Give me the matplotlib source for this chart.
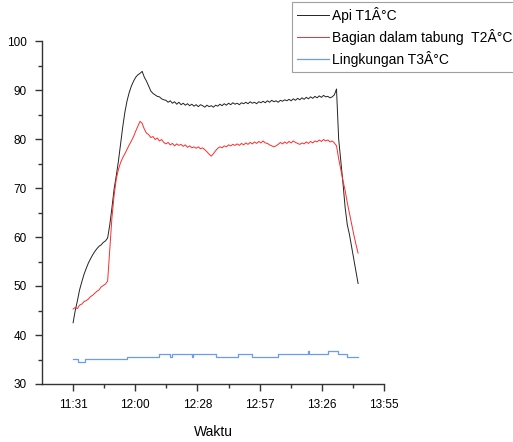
import matplotlib
matplotlib.use("Agg")
import matplotlib.pyplot as plt
import numpy as np

plt.rcParams["font.family"] = ["Liberation Sans", "DejaVu Sans"]

# waktu mulai pengukuran (menit sejak 00:00) dan data tiap 1 menit
MULAI = 691.2
T1_API = [
    42.5, 45.0, 47.0, 49.2, 50.8, 52.3, 53.5, 54.6, 55.5, 56.3,
    57.0, 57.6, 58.1, 58.4, 58.9, 59.2, 59.8, 62.5, 66.0, 69.8,
    72.5, 75.5, 79.0, 82.5, 85.5, 87.8, 89.5, 90.8, 91.8, 92.6,
    93.1, 93.4, 93.8, 92.6, 91.8, 90.8, 89.8, 89.3, 89.0, 88.7,
    88.6, 88.2, 88.0, 87.9, 87.5, 87.8, 87.3, 87.6, 87.1, 87.5,
    87.0, 87.3, 86.9, 87.2, 86.8, 87.1, 86.7, 87.0, 86.6, 87.0,
    86.8, 86.5, 86.9, 86.6, 86.8, 86.5, 86.9, 86.7, 87.1, 86.8,
    87.2, 86.9, 87.3, 87.0, 87.4, 87.1, 87.3, 87.0, 87.4, 87.2,
    87.5, 87.2, 87.6, 87.3, 87.5, 87.2, 87.6, 87.4, 87.7, 87.4,
    87.8, 87.5, 87.9, 87.6, 87.8, 87.5, 87.9, 87.7, 88.0, 87.8,
    88.1, 87.8, 88.2, 87.9, 88.3, 88.0, 88.4, 88.1, 88.5, 88.2,
    88.6, 88.3, 88.7, 88.4, 88.8, 88.5, 88.9, 88.6, 88.7, 88.4,
    88.6, 89.0, 90.2, 80.0, 75.5, 71.0, 66.0, 62.5, 60.5, 58.0,
    55.5, 53.0, 50.5,
]
T2_TABUNG = [
    45.3, 45.6, 45.4, 46.1, 46.3, 46.8, 47.0, 47.3, 47.8, 48.1,
    48.5, 48.9, 49.2, 49.8, 50.1, 50.4, 51.0, 57.5, 64.0, 68.5,
    71.8, 73.8, 75.2, 76.2, 77.0, 77.9, 78.8, 79.6, 80.5, 81.6,
    82.6, 83.6, 83.2, 82.0, 81.2, 80.9, 80.3, 80.5, 79.9, 80.2,
    79.6, 79.9, 79.3, 79.0, 79.3, 78.8, 79.1, 78.6, 79.0, 78.7,
    78.9, 78.5, 78.8, 78.3, 78.6, 78.2, 78.4, 78.1, 78.4, 78.0,
    78.2, 77.8, 77.4, 76.9, 76.5, 77.0, 77.6, 78.1, 78.4, 78.2,
    78.6, 78.4, 78.8, 78.6, 78.9, 78.7, 79.0, 78.7, 79.1, 78.8,
    79.2, 78.9, 79.3, 79.0, 79.4, 79.1, 79.5, 79.2, 79.6, 79.2,
    79.1, 78.8, 78.6, 78.4, 78.6, 78.9, 79.3, 79.0, 79.4, 79.1,
    79.5, 79.2, 79.6, 79.3, 79.1, 78.9, 79.2, 79.0, 79.4, 79.1,
    79.5, 79.2, 79.6, 79.4, 79.8, 79.5, 79.9, 79.6, 79.8, 79.4,
    79.6, 79.2, 78.6, 76.0, 73.7, 71.5, 69.5, 67.0, 64.8, 62.5,
    60.5, 58.5, 56.7,
]
# lingkungan: nilai bertingkat (menit sejak mulai, suhu)
T3_MENIT = [0, 2.5, 5.5, 25, 40, 45, 45.7, 55, 55.7, 66, 76.5, 83, 95,
            108.8, 109.2, 118, 122.5, 127, 132]
T3_LINGKUNGAN = [35.1, 34.5, 35.1, 35.6, 36.1, 35.6, 36.1, 35.6, 36.1, 35.6,
                 36.1, 35.6, 36.1, 36.7, 36.1, 36.7, 36.1, 35.6, 35.6]

LABEL_SERI = ["Api T1Â°C", "Bagian dalam tabung  T2Â°C", "Lingkungan T3Â°C"]
LABEL_WAKTU = ["11:31", "12:00", "12:28", "12:57", "13:26", "13:55"]

waktu = MULAI + np.arange(len(T1_API))
waktu3 = MULAI + np.array(T3_MENIT)

fig = plt.figure(figsize=(5.13, 4.42), dpi=100)
ax = fig.add_axes([42 / 513, 1 - 384 / 442, (384 - 42) / 513, (384 - 41) / 442])

l1, = ax.plot(waktu, T1_API, color="#222222", lw=0.7)
l2, = ax.plot(waktu, T2_TABUNG, color="#ff2a2a", lw=0.7)
l3, = ax.plot(waktu3, T3_LINGKUNGAN, color="#6a9cf0", lw=0.9,
              drawstyle="steps-post")

# sumbu x dalam kelipatan 0.02 hari (28.8 menit)
tick_x = 691.2 + 28.8 * np.arange(len(LABEL_WAKTU))
ax.set_xlim(676.8, 835.2)
ax.set_xticks(tick_x)
ax.set_xticklabels(LABEL_WAKTU)
ax.set_xticks(tick_x[:-1] + 14.4, minor=True)
ax.set_ylim(30, 100)
ax.set_yticks(np.arange(30, 101, 10))
ax.set_yticks(np.arange(35, 100, 10), minor=True)

for s in ["top", "right"]:
    ax.spines[s].set_visible(False)
for s in ["left", "bottom"]:
    ax.spines[s].set_color("#333333")
    ax.spines[s].set_linewidth(1.0)
ax.tick_params(which="major", direction="out", length=5, width=1,
               color="#333333", labelsize=8.5, pad=6)
ax.tick_params(which="minor", direction="out", length=3, width=1,
               color="#333333")
ax.set_xlabel("Waktu", fontsize=10, labelpad=10)

leg = fig.legend([l1, l2, l3], LABEL_SERI, loc="upper left",
                 bbox_to_anchor=(292 / 513, 1 - 2 / 442), fontsize=10,
                 fancybox=False, borderpad=0.35, handlelength=2.3,
                 handletextpad=0.25, labelspacing=0.45, borderaxespad=0)
leg.get_frame().set_edgecolor("#888888")
leg.get_frame().set_linewidth(0.8)

fig.savefig("out.png", dpi=100)
